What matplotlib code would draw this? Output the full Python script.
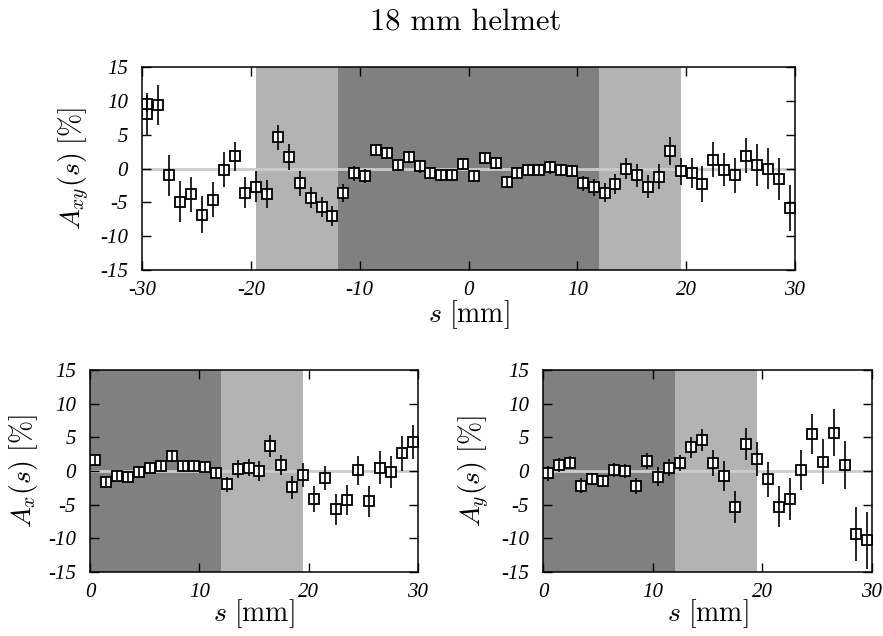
import numpy as np
import matplotlib
matplotlib.use("Agg")
import matplotlib.pyplot as plt

plt.rcParams['mathtext.fontset'] = 'cm'
plt.rcParams['axes.unicode_minus'] = False

# ---------------- data ----------------
s_xy = np.arange(-29.5, 30.0, 1.0)
a_xy = [8.0, 9.4, -1.0, -4.9, -3.8, -6.8, -4.6, -0.15, 1.8, -3.6,
        -2.7, -3.8, 4.6, 1.7, -2.2, -4.3, -5.7, -7.0, -3.6, -0.7,
        -1.1, 2.7, 2.3, 0.5, 1.7, 0.3, -0.6, -1.0, -1.0, 0.7,
        -1.1, 1.6, 0.8, -2.0, -0.7, -0.15, -0.15, 0.15, -0.25, -0.4,
        -2.2, -2.8, -3.6, -2.3, 0.0, -1.0, -2.7, -1.2, 2.6, -0.4,
        -0.7, -2.3, 1.3, -0.15, -1.0, 1.9, 0.5, 0.0, -1.5, -5.8]
e_xy = [3.1, 3.0, 3.0, 3.0, 2.6, 2.8, 2.6, 2.6, 2.1, 2.3,
        2.3, 2.1, 1.8, 1.9, 1.8, 1.6, 1.5, 1.5, 1.3, 1.1,
        1.1, 0.9, 0.9, 0.9, 0.9, 0.9, 0.85, 0.85, 0.85, 0.85,
        0.85, 0.85, 0.85, 0.85, 0.85, 0.85, 0.85, 0.9, 0.9, 0.9,
        1.1, 1.2, 1.4, 1.5, 1.6, 1.7, 1.7, 1.8, 2.1, 2.0,
        2.2, 2.6, 2.6, 2.4, 2.6, 2.6, 3.1, 3.1, 3.1, 3.4]
# extra overlapping point at the left edge
s_xy_extra = [-29.5]
a_xy_extra = [9.6]
e_xy_extra = [1.3]

s_half = np.arange(0.5, 30.0, 1.0)
a_x = [1.6, -1.6, -0.7, -0.9, -0.1, 0.5, 0.8, 2.2, 0.7, 0.7,
       0.6, -0.3, -2.0, 0.3, 0.5, 0.0, 3.7, 0.9, -2.4, -0.6,
       -4.2, -1.0, -5.7, -4.3, 0.1, -4.5, 0.5, -0.15, 2.6, 4.3]
e_x = [0.7, 0.7, 0.7, 0.7, 0.7, 0.7, 0.7, 0.7, 0.7, 0.7,
       0.75, 0.8, 1.1, 1.4, 1.3, 1.5, 1.6, 1.5, 1.7, 1.8,
       1.9, 1.8, 2.3, 2.2, 2.2, 2.3, 2.5, 2.4, 2.6, 2.5]
a_y = [-0.35, 0.95, 1.25, -2.2, -1.15, -1.45, 0.15, 0.0, -2.2, 1.45,
       -0.85, 0.5, 1.25, 3.5, 4.6, 1.15, -0.75, -5.3, 4.0, 1.75,
       -1.25, -5.3, -4.2, 0.15, 5.5, 1.4, 5.7, 0.9, -9.3, -10.3]
e_y = [1.1, 1.05, 1.0, 1.1, 0.9, 0.9, 1.0, 1.0, 1.15, 1.2,
       1.4, 1.3, 1.2, 1.6, 1.7, 1.9, 2.2, 2.4, 2.4, 2.5,
       2.6, 3.0, 3.1, 2.9, 2.95, 3.4, 3.5, 3.6, 4.0, 4.2]

inner_edge = 12.0
outer_edge = 19.5
yticks = [-15, -10, -5, 0, 5, 10, 15]

DARK = '#808080'
LIGHT = '#b3b3b3'
ZERO = '#cccccc'

tickfont = dict(family='Liberation Serif', style='italic', size=15)

fig = plt.figure(figsize=(8.83, 6.36), dpi=100)

ax_top = fig.add_axes([142/883, 1-270/636, 653/883, 203/636])
ax_bl = fig.add_axes([90/883, 1-572/636, 328/883, 202/636])
ax_br = fig.add_axes([543/883, 1-572/636, 329/883, 202/636])


def draw(ax, s, a, e, xlim, xticks, ylabel, ylabel_x, shades):
    for (x0, x1, c) in shades:
        ax.axvspan(x0, x1, color=c, lw=0, zorder=0)
    ax.axhline(0, color=ZERO, lw=2.0, zorder=1)
    ax.plot(s, a, ls='none', marker='s', ms=7.5, mfc='white', mec='black',
            mew=1.3, zorder=3)
    ax.errorbar(s, a, yerr=e, fmt='none', ecolor='black', elinewidth=1.2,
                capsize=0, zorder=4)
    ax.set_xlim(*xlim)
    ax.set_ylim(-15, 15)
    ax.set_xticks(xticks)
    ax.set_yticks(yticks)
    ax.set_xticklabels([str(t) for t in xticks], fontdict=tickfont)
    ax.set_yticklabels([str(t) for t in yticks], fontdict=tickfont)
    ax.tick_params(direction='in', top=True, right=True, length=6.5,
                   width=1.0, pad=10)
    ax.tick_params(axis='x', pad=8)
    for sp in ax.spines.values():
        sp.set_linewidth(1.1)
    ax.set_xlabel(r'$s\ [\mathrm{mm}]$', fontsize=20)
    ax.set_ylabel(ylabel, fontsize=20)
    ax.yaxis.set_label_coords(ylabel_x, 0.5)


draw(ax_top, s_xy, a_xy, e_xy, (-30, 30), [-30, -20, -10, 0, 10, 20, 30],
     r'$A_{xy}(s)\ [\%]$', -0.077,
     [(-outer_edge, -inner_edge, LIGHT), (-inner_edge, inner_edge, DARK),
      (inner_edge, outer_edge, LIGHT)])
ax_top.plot(s_xy_extra, a_xy_extra, ls='none', marker='s', ms=7.5, mfc='white',
            mec='black', mew=1.3, zorder=3, clip_on=True)
ax_top.errorbar(s_xy_extra, a_xy_extra, yerr=e_xy_extra, fmt='none',
                ecolor='black', elinewidth=1.2, capsize=0, zorder=4)
ax_top.xaxis.set_label_coords(0.5, -0.14)

draw(ax_bl, s_half, a_x, e_x, (0, 30), [0, 10, 20, 30],
     r'$A_{x}(s)\ [\%]$', -0.152,
     [(0, inner_edge, DARK), (inner_edge, outer_edge, LIGHT)])
ax_bl.xaxis.set_label_coords(0.5, -0.125)

draw(ax_br, s_half, a_y, e_y, (0, 30), [0, 10, 20, 30],
     r'$A_{y}(s)\ [\%]$', -0.155,
     [(0, inner_edge, DARK), (inner_edge, outer_edge, LIGHT)])
ax_br.xaxis.set_label_coords(0.5, -0.125)

fig.text(466/883, 1-22/636, '18 mm helmet', family='cmr10', fontsize=22,
         ha='center', va='center')

fig.savefig('out.png', dpi=100)
